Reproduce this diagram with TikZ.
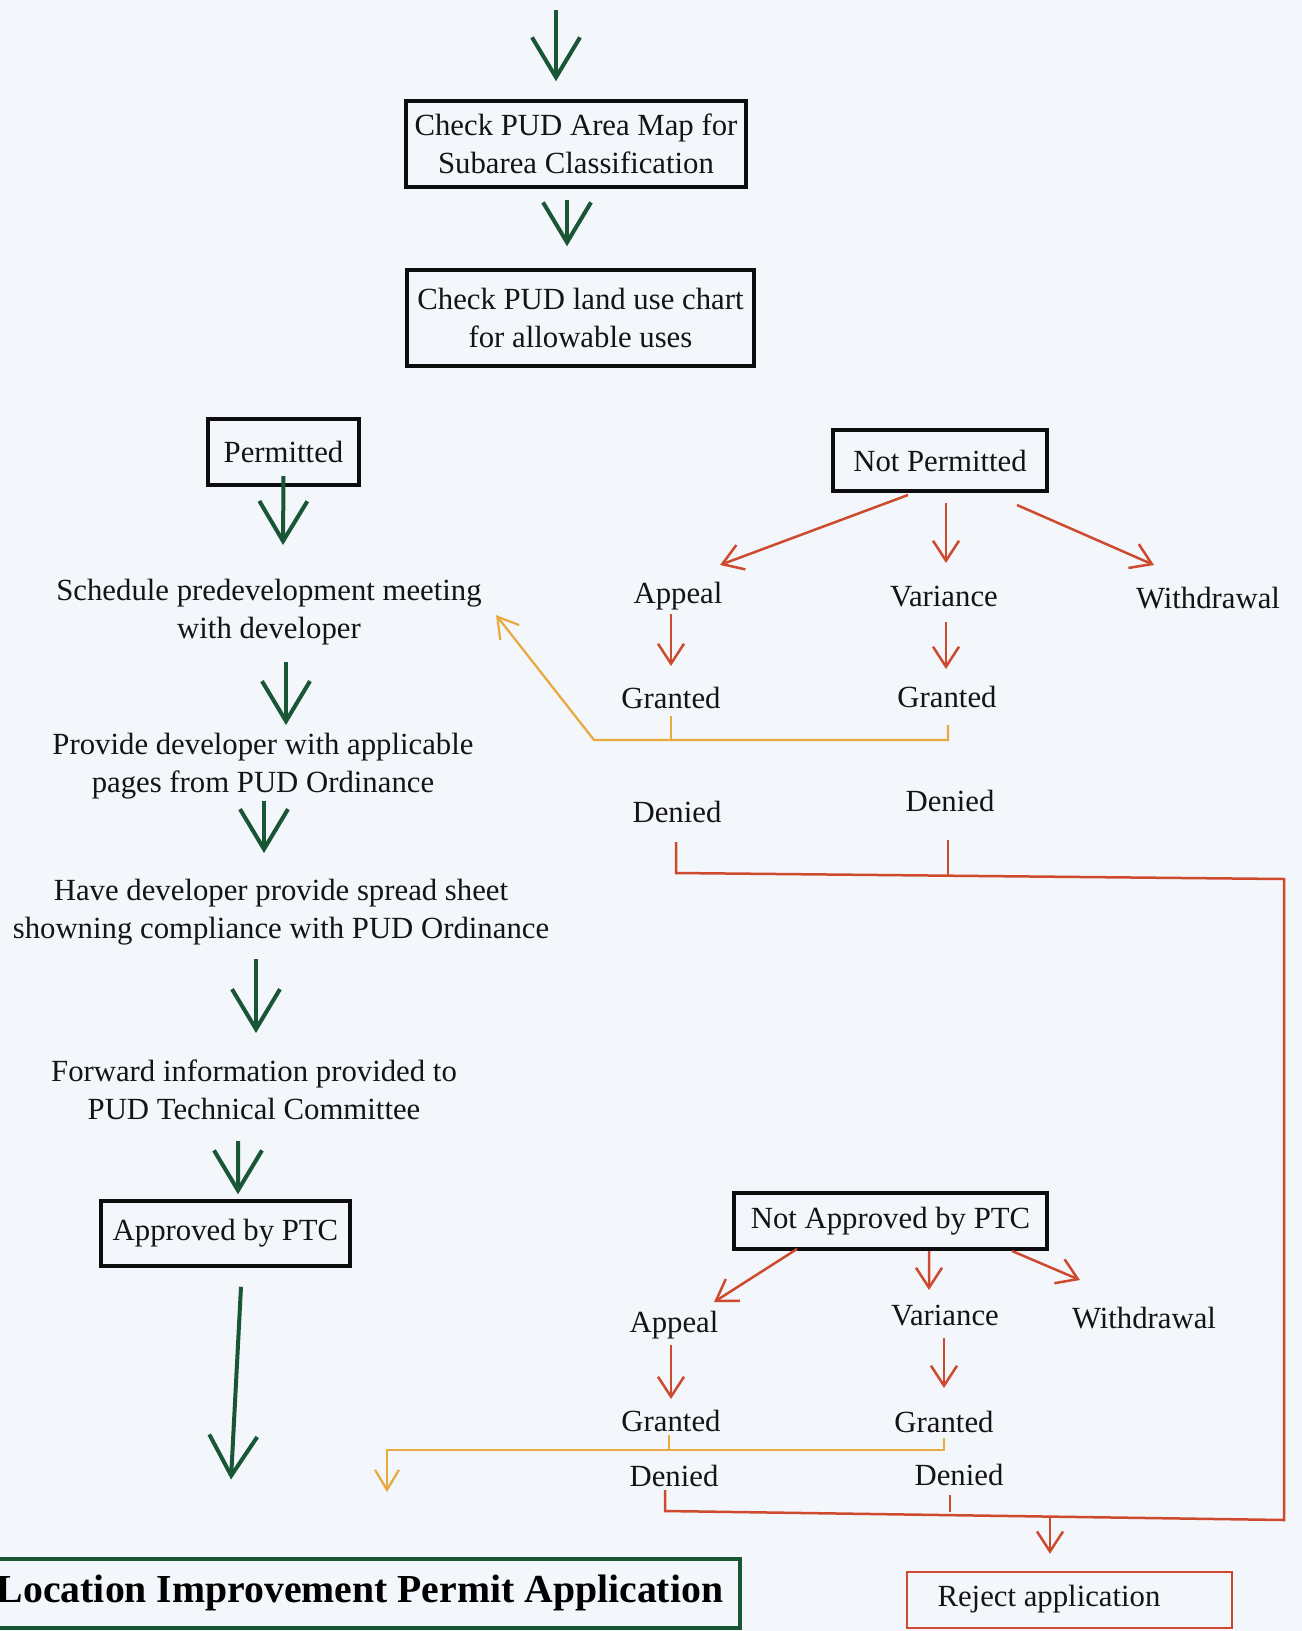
\documentclass[tikz,border=0pt]{standalone}
\usepackage{fontspec}
\setmainfont{Liberation Serif}
\usetikzlibrary{arrows.meta,calc}
\definecolor{bgc}{RGB}{243,246,250}
\definecolor{gr}{RGB}{24,86,54}
\definecolor{rd}{RGB}{206,74,46}
\definecolor{yl}{RGB}{232,170,62}
\tikzset{
  txt/.style={font=\fontsize{17.5}{21.5}\selectfont, align=center, inner sep=0pt, text=black!92},
  bbox/.style={txt, draw=black!95, line width=0.7mm},
  garrow/.style={draw=gr, line width=0.8mm, -{Straight Barb[length=8mm,width=9.6mm]}},
  rarrow/.style={draw=rd, line width=0.5mm, -{Straight Barb[length=4mm,width=5.2mm]}},
  rline/.style={draw=rd, line width=0.5mm},
  yarrow/.style={draw=yl, line width=0.45mm, -{Straight Barb[length=4mm,width=4.8mm]}},
  yline/.style={draw=yl, line width=0.45mm},
}
\begin{document}
\begin{tikzpicture}[x=0.2mm,y=-0.2mm]
\useasboundingbox (0,0) rectangle (1302,1631);
\fill[bgc] (0,0) rectangle (1302,1631);

% boxes
\node[bbox, minimum width=68mm, minimum height=17.2mm] (box1) at (576,144) {Check PUD Area Map for\\Subarea Classification};
\node[bbox, minimum width=69.4mm, minimum height=19.2mm] (box2) at (580.5,318) {Check PUD land use chart\\for allowable uses};
\node[bbox, minimum width=30.2mm, minimum height=13.2mm] (perm) at (283.5,452) {Permitted};
\node[bbox, minimum width=42.8mm, minimum height=12.2mm] (np) at (940,460.5) {Not Permitted};
\node[bbox, minimum width=49.8mm, minimum height=13mm] (appr) at (225.5,1233.5) {Approved by PTC};
\node[bbox, minimum width=62.6mm, minimum height=11.2mm] (na) at (890.5,1221) {Not Approved by PTC};
\node[draw=gr, line width=0.8mm, minimum width=152mm, minimum height=13.8mm, inner sep=0pt,
      font=\fontsize{22.6}{26}\selectfont\bfseries, text=black] (title) at (360,1593) {Location Improvement Permit Application};
\node[draw=rd, line width=0.5mm, minimum width=65mm, minimum height=11.2mm, inner sep=0pt] (rejbox) at (1069.5,1600) {};
\node[txt] (rejtxt) at (1049,1599) {Reject application};

% left column texts
\node[txt] (sched) at (269,612) {Schedule predevelopment meeting\\with developer};
\node[txt] (provide) at (263,766) {Provide developer with applicable\\pages from PUD Ordinance};
\node[txt] (have) at (281,912) {Have developer provide spread sheet\\showning compliance with PUD Ordinance};
\node[txt] (fwd) at (254,1090) {Forward information provided to\\PUD Technical Committee};

% right upper labels
\node[txt] (a1) at (678,596) {Appeal};
\node[txt] (v1) at (944,597) {Variance};
\node[txt] (w1) at (1208,598) {Withdrawal};
\node[txt] (g1) at (671,698) {Granted};
\node[txt] (g2) at (947,697) {Granted};
\node[txt] (d1) at (677,812) {Denied};
\node[txt] (d2) at (950,801) {Denied};

% right lower labels
\node[txt] (a2) at (674,1325) {Appeal};
\node[txt] (v2) at (945,1316) {Variance};
\node[txt] (w2) at (1144,1318) {Withdrawal};
\node[txt] (g3) at (671,1421) {Granted};
\node[txt] (g4) at (944,1422) {Granted};
\node[txt] (d3) at (674,1476) {Denied};
\node[txt] (d4) at (959,1475) {Denied};

% green flow
\coordinate (top) at (556,10);
\draw[garrow] (top) -- ($(box1.north)+(-20,-18)$);
\draw[garrow] ($(box1.south)+(-9,11)$) -- ($(box2.north)+(-13.5,-22)$);
\draw[garrow] ($(perm.center)+(0,24)$) -- ($(sched.center)+(14,-67)$);
\draw[garrow] ($(sched.center)+(17,50)$) -- ($(provide.center)+(23,-41)$);
\draw[garrow] ($(provide.center)+(1,35)$) -- ($(have.center)+(-17,-59)$);
\draw[garrow] ($(have.center)+(-25,47)$) -- ($(fwd.center)+(2,-57)$);
\draw[garrow] ($(fwd.center)+(-16,51)$) -- ($(appr.north)+(12.5,-5)$);
\draw[garrow] ($(appr.south)+(15.5,19)$) -- ($(title.north)+(-129,-77)$);

% red arrows upper
\draw[rarrow] ($(np.center)+(-32,34.5)$) -- ($(a1.center)+(42,-31)$);
\draw[rarrow] ($(np.center)+(6,42.5)$) -- ($(v1.center)+(2,-34)$);
\draw[rarrow] ($(np.center)+(77,44.5)$) -- ($(w1.center)+(-54,-33)$);
\draw[rarrow] ($(a1.center)+(-7,18)$) -- ($(g1.center)+(0,-32)$);
\draw[rarrow] ($(v1.center)+(2,25)$) -- ($(g2.center)+(-1,-28)$);

% red arrows lower
\draw[rarrow] ($(na.center)+(-93.5,28)$) -- ($(a2.center)+(40,-23)$);
\draw[rarrow] ($(na.center)+(38.5,30)$) -- ($(v2.center)+(-16,-26)$);
\draw[rarrow] ($(na.center)+(121.5,30)$) -- ($(w2.center)+(-64,-38)$);
\draw[rarrow] ($(a2.center)+(-3,20)$) -- ($(g3.center)+(0,-22)$);
\draw[rarrow] ($(v2.center)+(-1,22)$) -- ($(g4.center)+(0,-34)$);

% yellow granted returns
\coordinate (yj1) at (594,740);
\draw[yline] ($(g1.center)+(0,18)$) -- ($(g1.center)+(0,42)$);
\draw[yarrow] ($(g2.center)+(1,28)$) -- ($(g2.center)+(1,43)$) -- (yj1) -- ($(sched.center)+(227,3)$);
\coordinate (yj2) at (387,1450);
\draw[yline] ($(g3.center)+(-2,14)$) -- ($(g3.center)+(-2,29)$);
\draw[yarrow] ($(g4.center)+(0,16)$) -- ($(g4.center)+(0,28)$) -- (yj2) -- ($(yj2)+(0,42)$);

% red denied lines
\coordinate (rc1) at (1284,879);
\coordinate (rc2) at (1284,1520);
\draw[rline] ($(d1.center)+(-1,30)$) -- ($(d1.center)+(-1,61)$) -- (rc1) -- (rc2)
   -- ($(d3.center)+(-9,35)$) -- ($(d3.center)+(-9,14)$);
\draw[rline] ($(d2.center)+(-2,39)$) -- ($(d2.center)+(-2,75)$);
\draw[rline] ($(d4.center)+(-9,20)$) -- ($(d4.center)+(-9,37)$);
\coordinate (rj) at (1050,1518);
\draw[rarrow] (rj) -- ($(rejbox.north)+(-19.5,-17)$);
\end{tikzpicture}
\end{document}
